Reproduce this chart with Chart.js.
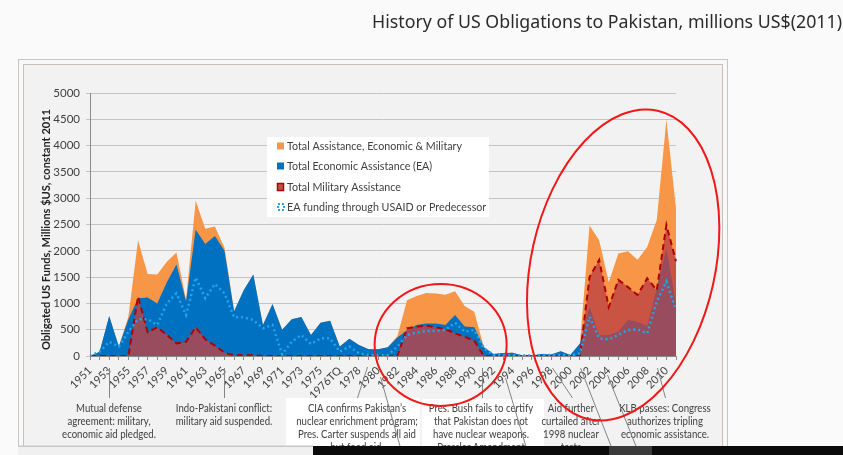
<!DOCTYPE html>
<html>
<head>
<meta charset="utf-8">
<script src="https://cdn.jsdelivr.net/npm/chart.js@4.4.1/dist/chart.umd.min.js"></script>
<style>
  html, body { margin: 0; padding: 0; background: #fafafa; }
  canvas { display: block; }
</style>
</head>
<body>
<canvas id="chart" width="843" height="455"></canvas>
<script>
// Fiscal years (1976TQ = transition quarter)
const years = [
  '1951','1952','1953','1954','1955','1956','1957','1958','1959','1960',
  '1961','1962','1963','1964','1965','1966','1967','1968','1969','1970',
  '1971','1972','1973','1974','1975','1976','1976TQ','1977','1978','1979',
  '1980','1981','1982','1983','1984','1985','1986','1987','1988','1989',
  '1990','1991','1992','1993','1994','1995','1996','1997','1998','1999',
  '2000','2001','2002','2003','2004','2005','2006','2007','2008','2009',
  '2010','2011'
];

// values, millions US$ (2011)
const totalAssistance = [
  0, 80, 760, 180, 750, 2200, 1560, 1550, 1790, 1970,
  1070, 2950, 2420, 2460, 2060, 850, 1250, 1550, 590, 990,
  500, 700, 740, 400, 630, 670, 180, 330, 210, 130,
  130, 165, 380, 1060, 1140, 1200, 1190, 1165, 1230, 950,
  840, 170, 40, 55, 60, 10, 10, 40, 30, 90,
  20, 240, 2480, 2200, 1400, 1950, 1990, 1830, 2070, 2590,
  4490, 2810
];
const economicAssistance = [
  0, 80, 760, 180, 700, 1100, 1110, 1000, 1400, 1740,
  1040, 2400, 2130, 2280, 2000, 850, 1250, 1550, 590, 990,
  500, 700, 740, 400, 630, 670, 180, 330, 210, 130,
  130, 165, 350, 490, 590, 620, 620, 590, 780, 560,
  545, 165, 40, 55, 60, 10, 10, 40, 30, 90,
  20, 240, 940, 400, 400, 460, 685, 650, 570, 1290,
  2050, 1000
];
const militaryAssistance = [
  0, 0, 0, 0, 0, 1130, 450, 545, 400, 240,
  270, 545, 317, 197, 65, 10, 20, 15, 0, 0,
  0, 0, 0, 0, 0, 0, 0, 0, 0, 0,
  0, 0, 0, 526, 558, 575, 545, 510, 430, 365,
  290, 0, 0, 0, 0, 0, 0, 0, 0, 0,
  0, 0, 1500, 1827, 930, 1446, 1310, 1160, 1478, 1250,
  2490, 1800
];
const usaidFunding = [
  0, 80, 270, 180, 460, 700, 700, 590, 1000, 1190,
  780, 1490, 1100, 1370, 1190, 736, 736, 685, 527, 590,
  30, 273, 400, 228, 336, 336, 82, 180, 50, 20,
  20, 20, 178, 400, 444, 476, 476, 495, 634, 463,
  495, 146, 20, 20, 20, 10, 10, 20, 20, 20,
  10, 50, 748, 336, 317, 400, 495, 507, 431, 1034,
  1415, 875
];

const seriesNames = [
  'Total Assistance, Economic & Military',
  'Total Economic Assistance (EA)',
  'Total Military Assistance',
  'EA funding through USAID or Predecessor'
];

const chartTitle = 'History of US Obligations to Pakistan, millions US$(2011)';
const yAxisTitle = 'Obligated US Funds, Millions $US, constant 2011';

// event notes under the axis
const notes = [
  { cx: 109, lines: ['Mutual defense', 'agreement: military,', 'economic aid pledged.'] },
  { cx: 224, lines: ['Indo-Pakistani conflict:', 'military aid suspended.'] },
  { cx: 357, lines: ['CIA confirms Pakistan\u2019s', 'nuclear enrichment program;', 'Pres. Carter suspends all aid', 'but food aid.'] },
  { cx: 481, lines: ['Pres. Bush fails to certify', 'that Pakistan does not', 'have nuclear weapons.', 'Pressler Amendment'] },
  { cx: 571, lines: ['Aid further', 'curtailed after', '1998 nuclear', 'tests'] },
  { cx: 665, lines: ['KLB passes: Congress', 'authorizes tripling', 'economic assistance.'] }
];

const ORANGE = '#f79646';
const BLUE = '#0070c0';
const MIL_FILL = 'rgba(190, 68, 68, 0.8)';
const MIL_LINE = '#b00000';
const CYAN = '#1ea7ea';

const decor = {
  id: 'decor',
  beforeDraw(chart) {
    const ctx = chart.ctx;
    ctx.save();
    ctx.fillStyle = '#fafafa';
    ctx.fillRect(0, 0, chart.width, chart.height);
    // slide frame
    ctx.fillStyle = '#f8f8f8';
    ctx.fillRect(18, 59, 709, 396);
    ctx.strokeStyle = '#c6c6c6';
    ctx.lineWidth = 1;
    ctx.strokeRect(18.5, 59.5, 709, 400);
    ctx.fillStyle = '#f2f2f2';
    ctx.fillRect(23, 64, 699, 396);
    ctx.strokeStyle = '#cbbfb3';
    ctx.strokeRect(23.5, 64.5, 699, 400);
    ctx.restore();
  },
  afterDraw(chart) {
    const ctx = chart.ctx;
    const x = chart.scales.x;
    const y = chart.scales.y;
    ctx.save();

    // title
    ctx.fillStyle = '#2b2b2b';
    ctx.font = '18px "Noto Sans"';
    ctx.textBaseline = 'alphabetic';
    ctx.textAlign = 'left';
    let k = 470 / ctx.measureText(chartTitle).width;
    ctx.save(); ctx.translate(372, 28); ctx.scale(k, 1); ctx.fillText(chartTitle, 0, 0); ctx.restore();

    // y axis title
    ctx.fillStyle = '#222';
    ctx.font = 'bold 10.5px Lato';
    ctx.textAlign = 'center';
    ctx.textBaseline = 'middle';
    k = 241 / ctx.measureText(yAxisTitle).width;
    ctx.save(); ctx.translate(47, 229.5); ctx.rotate(-Math.PI / 2); ctx.scale(k, 1); ctx.fillText(yAxisTitle, 0, 0); ctx.restore();

    // legend
    ctx.fillStyle = '#ffffff';
    ctx.fillRect(267, 137, 222, 80);
    ctx.font = '12px Lato';
    ctx.textAlign = 'left';
    ctx.textBaseline = 'middle';
    k = 175 / ctx.measureText(seriesNames[0]).width;
    const rowsY = [146, 166, 187, 207];
    seriesNames.forEach((name, i) => {
      const ry = rowsY[i];
      if (i === 0) { ctx.fillStyle = ORANGE; ctx.fillRect(277, ry - 3.5, 7, 7); }
      if (i === 1) { ctx.fillStyle = BLUE; ctx.fillRect(277, ry - 3.5, 7, 7); }
      if (i === 2) {
        ctx.fillStyle = '#c0504d'; ctx.fillRect(277, ry - 4, 7, 8);
        ctx.strokeStyle = MIL_LINE; ctx.lineWidth = 1.5; ctx.strokeRect(277.5, ry - 3.5, 6, 7);
      }
      if (i === 3) {
        ctx.strokeStyle = CYAN; ctx.lineWidth = 2; ctx.setLineDash([2, 2]);
        ctx.strokeRect(278, ry - 3, 6, 6); ctx.setLineDash([]);
      }
      ctx.fillStyle = '#404040';
      ctx.save(); ctx.translate(287, ry); ctx.scale(k, 1); ctx.fillText(name, 0, 0); ctx.restore();
    });

    // note boxes
    ctx.fillStyle = '#ffffff';
    ctx.fillRect(286, 398, 134, 57);
    ctx.fillRect(422, 399, 122, 56);

    // note text
    ctx.fillStyle = '#404040';
    ctx.font = '12px Lato';
    ctx.textAlign = 'center';
    ctx.textBaseline = 'middle';
    k = 118 / ctx.measureText('Pres. Carter suspends all aid').width;
    notes.forEach(n => {
      n.lines.forEach((line, j) => {
        ctx.save(); ctx.translate(n.cx, 408 + j * 13); ctx.scale(k, 1); ctx.fillText(line, 0, 0); ctx.restore();
      });
    });

    // leader lines
    ctx.strokeStyle = '#858585';
    ctx.lineWidth = 1;
    const leaders = [
      [109, 368, 109, 398], [224, 368, 224, 398], [367, 367, 357, 398],
      [380, 377, 402, 455], [482, 368, 482, 398], [505, 378, 528, 455],
      [552, 368, 572, 398], [580, 368, 614, 455], [607, 375, 639, 455],
      [657, 368, 665, 398]
    ];
    leaders.forEach(l => {
      ctx.beginPath(); ctx.moveTo(l[0] + 0.5, l[1]); ctx.lineTo(l[2] + 0.5, l[3]); ctx.stroke();
    });

    // hand-drawn red loops around the two aid surges
    ctx.strokeStyle = '#f01818';
    ctx.lineWidth = 2;
    const step = x.getPixelForValue(1) - x.getPixelForValue(0);
    ctx.beginPath();
    ctx.ellipse(x.getPixelForValue(36) + 0.5 * step, y.getPixelForValue(210), 66, 61, 0, 0, Math.PI * 2);
    ctx.stroke();
    ctx.beginPath();
    ctx.ellipse(x.getPixelForValue(55) + 0.5 * step, y.getPixelForValue(1730), 92, 158, 0.22, 0, Math.PI * 2);
    ctx.stroke();

    // screen taskbar strip at the bottom
    ctx.strokeStyle = '#c8c8c8';
    ctx.beginPath(); ctx.moveTo(18, 446.5); ctx.lineTo(313, 446.5); ctx.stroke();
    ctx.fillStyle = '#f0f0f0';
    ctx.fillRect(18, 447, 295, 8);
    ctx.fillStyle = '#0b0b0b';
    ctx.fillRect(313, 446, 530, 9);
    ctx.fillStyle = '#3a3a3a';
    ctx.fillRect(609, 446, 43, 9);

    ctx.restore();
  }
};

new Chart(document.getElementById('chart'), {
  type: 'line',
  data: {
    labels: years,
    datasets: [
      {
        label: seriesNames[3],
        data: usaidFunding,
        order: 0,
        borderColor: CYAN,
        borderWidth: 2.5,
        borderDash: [2, 3],
        fill: false,
        pointRadius: 0,
        tension: 0
      },
      {
        label: seriesNames[2],
        data: militaryAssistance,
        order: 1,
        backgroundColor: MIL_FILL,
        borderColor: MIL_LINE,
        borderWidth: 2,
        borderDash: [6, 4],
        fill: 'origin',
        pointRadius: 0,
        tension: 0
      },
      {
        label: seriesNames[1],
        data: economicAssistance,
        order: 2,
        backgroundColor: BLUE,
        borderColor: BLUE,
        borderWidth: 0,
        fill: 'origin',
        pointRadius: 0,
        tension: 0
      },
      {
        label: seriesNames[0],
        data: totalAssistance,
        order: 3,
        backgroundColor: ORANGE,
        borderColor: ORANGE,
        borderWidth: 0,
        fill: 'origin',
        pointRadius: 0,
        tension: 0
      }
    ]
  },
  options: {
    responsive: false,
    animation: false,
    layout: { padding: { left: 0, top: 93, right: 167, bottom: 0 } },
    plugins: {
      legend: { display: false },
      tooltip: { enabled: false }
    },
    scales: {
      x: {
        offset: false,
        grid: { drawOnChartArea: false, drawTicks: true, tickLength: 4, color: '#8a8a8a' },
        border: { display: true, color: '#8a8a8a' },
        ticks: {
          autoSkip: false,
          minRotation: 45,
          maxRotation: 45,
          padding: 4,
          color: '#404040',
          font: { family: 'Lato', size: 11 },
          callback: (v, i) => (i % 2 === 0 ? years[i] : '')
        },
        afterFit: s => { s.height = 99; }
      },
      y: {
        min: 0,
        max: 5000,
        grid: { color: '#c4c4c4', tickLength: 4 },
        border: { display: true, color: '#8a8a8a' },
        ticks: {
          stepSize: 500,
          padding: 6,
          color: '#404040',
          font: { family: 'Lato', size: 11.5 },
          callback: v => String(v)
        },
        afterFit: s => { s.width = 90; }
      }
    }
  },
  plugins: [decor]
});
</script>
</body>
</html>
